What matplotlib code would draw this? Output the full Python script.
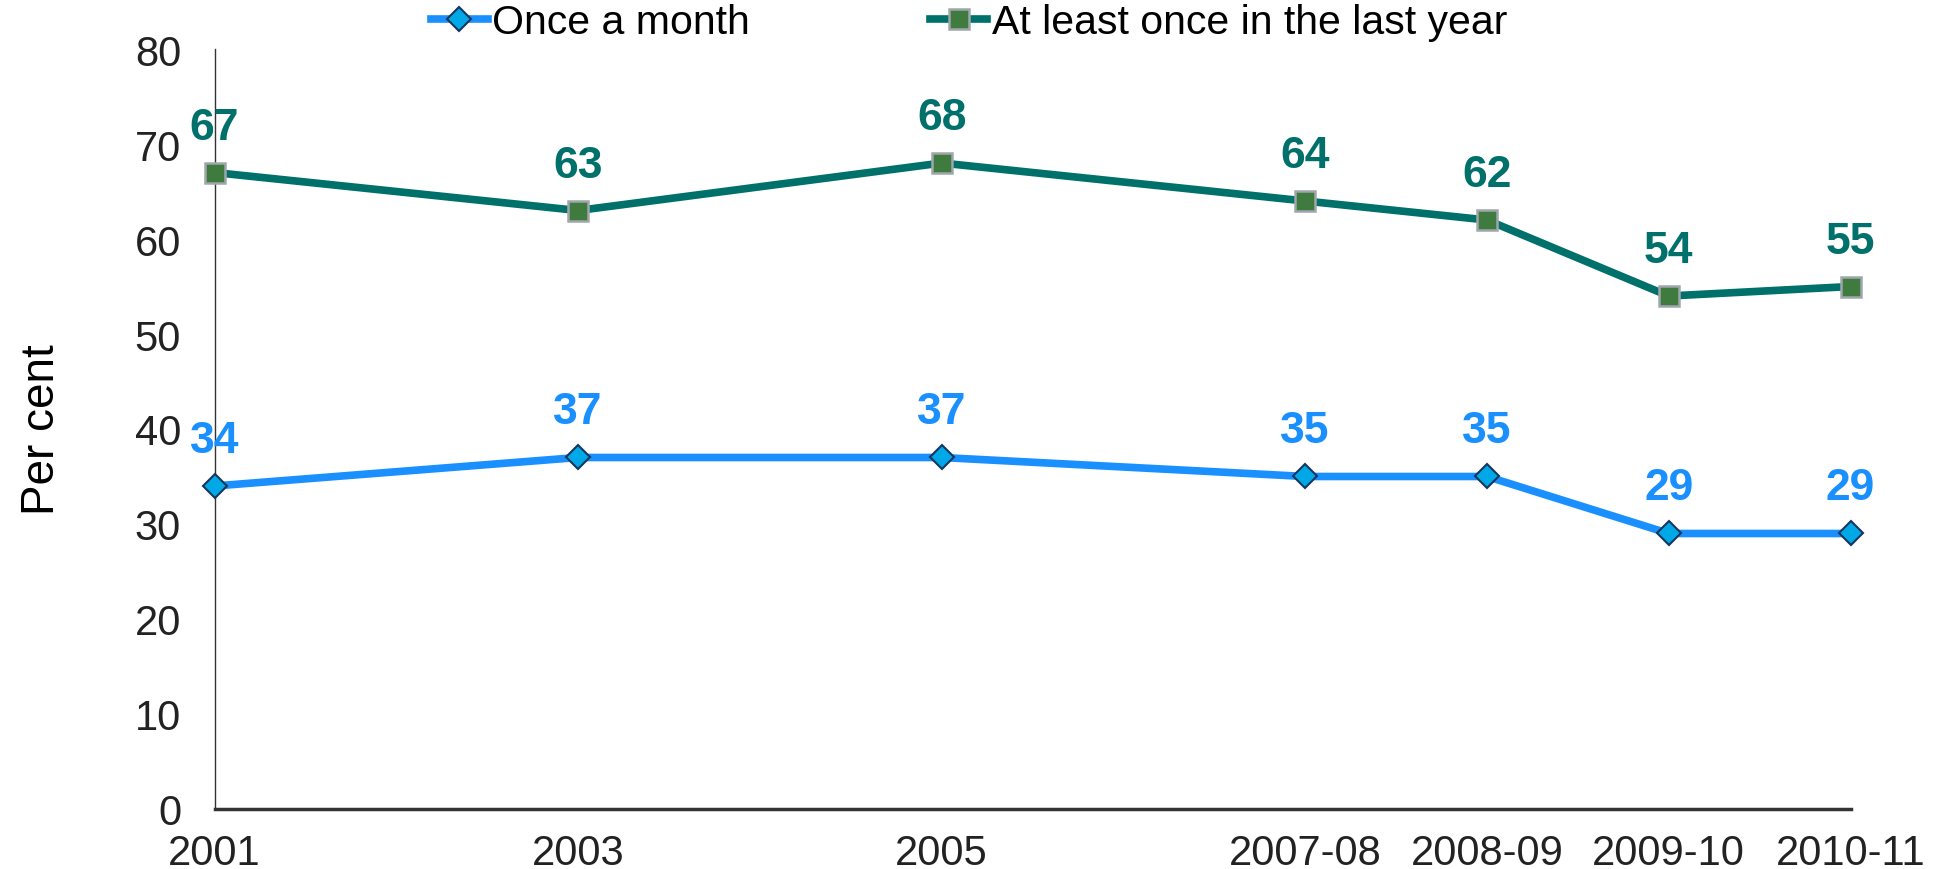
import matplotlib
matplotlib.use('Agg')
import matplotlib.pyplot as plt

# x positions are years so the spacing follows the calendar
years = [2001, 2003, 2005, 2007, 2008, 2009, 2010]
year_labels = ['2001', '2003', '2005', '2007-08', '2008-09', '2009-10', '2010-11']
once_month = [34, 37, 37, 35, 35, 29, 29]
last_year = [67, 63, 68, 64, 62, 54, 55]

plt.rcParams['font.family'] = ['Liberation Sans', 'DejaVu Sans']

blue = '#1A90FF'
green = '#00706A'

fig = plt.figure(figsize=(19.5, 8.7), dpi=100)
ax = fig.add_axes([0.110, 0.069, 0.839, 0.8735])

ax.plot(years, once_month, '-', color=blue, lw=5.5, marker='D', ms=12,
        mfc='#00A8E8', mec='#16365C', mew=1.5, label='Once a month',
        zorder=3, clip_on=False)
ax.plot(years, last_year, '-', color=green, lw=5.5, marker='s', ms=14,
        mfc='#3F7A3F', mec='#A0A6AC', mew=1.8, label='At least once in the last year',
        zorder=3, clip_on=False)

for x, y in zip(years, once_month):
    ax.annotate(str(y), (x, y), xytext=(0, 18), textcoords='offset points',
                ha='center', va='bottom', fontsize=32, fontweight='bold', color=blue)
for x, y in zip(years, last_year):
    ax.annotate(str(y), (x, y), xytext=(0, 18), textcoords='offset points',
                ha='center', va='bottom', fontsize=32, fontweight='bold', color=green)

ax.set_xlim(2001, 2010)
ax.set_ylim(0, 80)
ax.set_yticks(range(0, 81, 10))
ax.set_xticks(years)
ax.set_xticklabels(year_labels)
ax.tick_params(axis='both', length=0, labelsize=30, colors='#222222')
ax.tick_params(axis='x', pad=17)
ax.tick_params(axis='y', pad=24)
ax.spines['top'].set_visible(False)
ax.spines['right'].set_visible(False)
ax.spines['left'].set_linewidth(1)
ax.spines['left'].set_color('#333333')
ax.spines['bottom'].set_linewidth(2.5)
ax.spines['bottom'].set_color('#333333')
ax.set_ylabel('Per cent', fontsize=33)
ax.yaxis.set_label_coords(-0.092, 0.5)

ax.legend(loc='center', bbox_to_anchor=(0.461, 1.035), ncol=2, frameon=False,
          fontsize=29.5, handlelength=1.4, handletextpad=0.1, columnspacing=4.4,
          borderaxespad=0)

fig.savefig('out.png', dpi=100, facecolor='white')
